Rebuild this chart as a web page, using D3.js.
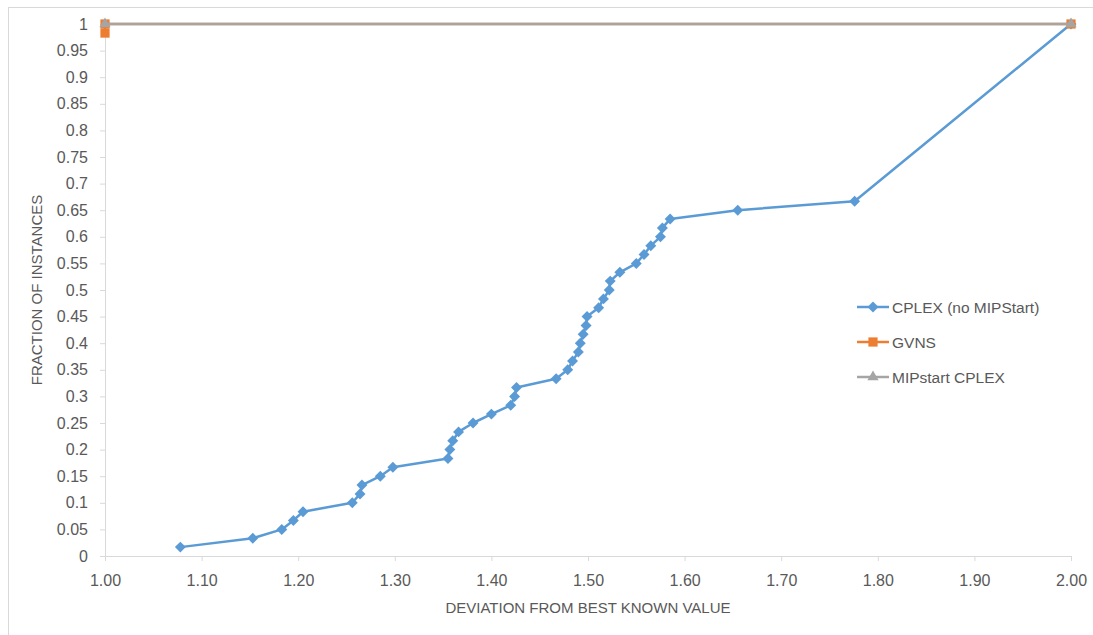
<!DOCTYPE html>
<html>
<head>
<meta charset="utf-8">
<script src="https://cdn.jsdelivr.net/npm/d3@7/dist/d3.min.js"></script>
<style>
  html, body { margin: 0; padding: 0; background: #fff; }
  svg { display: block; }
  text { font-family: "Liberation Sans", Arial, sans-serif; fill: #595959; }
</style>
</head>
<body>
<svg id="chart" width="1093" height="635"></svg>
<script>
// ---- Data ----
const cplexX = [1.078, 1.153, 1.183, 1.195, 1.205, 1.256, 1.264, 1.266, 1.285, 1.298,
                1.355, 1.357, 1.360, 1.366, 1.381, 1.400, 1.420, 1.424, 1.426, 1.467,
                1.479, 1.484, 1.490, 1.492, 1.495, 1.498, 1.499, 1.511, 1.516, 1.522,
                1.523, 1.533, 1.550, 1.558, 1.565, 1.575, 1.577, 1.585, 1.655, 1.776, 2.00];
const cplexY = [0.0167, 0.0333, 0.05, 0.0667, 0.0833, 0.1, 0.1167, 0.1333, 0.15, 0.1667,
                0.1833, 0.2, 0.2167, 0.2333, 0.25, 0.2667, 0.2833, 0.3, 0.3167, 0.3333,
                0.35, 0.3667, 0.3833, 0.4, 0.4167, 0.4333, 0.45, 0.4667, 0.4833, 0.5,
                0.5167, 0.5333, 0.55, 0.5667, 0.5833, 0.6, 0.6167, 0.6333, 0.65, 0.6667, 1.0];
const gvnsX = [1.00, 1.00, 2.00];
const gvnsY = [0.983, 1.0, 1.0];
const mipX = [1.00, 2.00];
const mipY = [1.0, 1.0];
const seriesNames = ["CPLEX (no MIPStart)", "GVNS", "MIPstart CPLEX"];
const seriesColors = ["#5B9BD5", "#ED7D31", "#A5A5A5"];
const xTicks = [1.0, 1.1, 1.2, 1.3, 1.4, 1.5, 1.6, 1.7, 1.8, 1.9, 2.0];
const yTicks = [0, 0.05, 0.1, 0.15, 0.2, 0.25, 0.3, 0.35, 0.4, 0.45, 0.5,
                0.55, 0.6, 0.65, 0.7, 0.75, 0.8, 0.85, 0.9, 0.95, 1];
const xTitle = "DEVIATION FROM BEST KNOWN VALUE";
const yTitle = "FRACTION OF INSTANCES";

// ---- Layout ----
const svg = d3.select("#chart");
const plot = { left: 105, right: 1071, top: 24, bottom: 556 };
const x = d3.scaleLinear().domain([1, 2]).range([plot.left, plot.right]);
const y = d3.scaleLinear().domain([0, 1]).range([plot.bottom, plot.top]);

// chart border
svg.append("rect").attr("x", 8.5).attr("y", 7.5).attr("width", 1100).attr("height", 640)
  .attr("fill", "none").attr("stroke", "#D9D9D9").attr("stroke-width", 1);

// axes
const xAxis = d3.axisBottom(x).tickValues(xTicks).tickFormat(d3.format(".2f")).tickSize(5).tickPadding(8);
const yAxis = d3.axisLeft(y).tickValues(yTicks).tickFormat(d => d3.format("")(+d.toFixed(2))).tickSize(5).tickPadding(12);

const gx = svg.append("g").attr("transform", `translate(0,${plot.bottom})`).call(xAxis);
const gy = svg.append("g").attr("transform", `translate(${plot.left},0)`).call(yAxis);
[gx, gy].forEach(g => {
  g.select(".domain").attr("stroke", "#D9D9D9").attr("stroke-width", 1);
  g.selectAll(".tick line").attr("stroke", "#D9D9D9");
  g.selectAll(".tick text").style("font-size", "16px").attr("fill", "#595959")
    .style("font-family", '"Liberation Sans", Arial, sans-serif');
});
gx.selectAll(".tick text").attr("dy", "1.05em");

// axis titles
svg.append("text").attr("x", (plot.left + plot.right) / 2).attr("y", 613)
  .attr("text-anchor", "middle").style("font-size", "15px").text(xTitle);
svg.append("text").attr("transform", `translate(42,${(plot.top + plot.bottom) / 2}) rotate(-90)`)
  .attr("text-anchor", "middle").style("font-size", "15px").text(yTitle);

// series
const series = [
  { name: seriesNames[0], color: seriesColors[0], pts: cplexX.map((v, i) => [v, cplexY[i]]), sym: d3.symbolSquare, size: 60, rot: 45 },
  { name: seriesNames[1], color: seriesColors[1], pts: gvnsX.map((v, i) => [v, gvnsY[i]]), sym: d3.symbolSquare, size: 85, rot: 0 },
  { name: seriesNames[2], color: seriesColors[2], pts: mipX.map((v, i) => [v, mipY[i]]), sym: d3.symbolTriangle, size: 55, rot: 0 }
];
const line = d3.line().x(d => x(d[0])).y(d => y(d[1]));

series.forEach(s => {
  const g = svg.append("g");
  g.append("path").attr("d", line(s.pts)).attr("fill", "none")
    .attr("stroke", s.color).attr("stroke-width", 2.5).attr("stroke-linejoin", "round");
  g.selectAll("path.m").data(s.pts).enter().append("path").attr("class", "m")
    .attr("d", d3.symbol().type(s.sym).size(s.size))
    .attr("transform", d => `translate(${x(d[0])},${y(d[1])}) rotate(${s.rot})`)
    .attr("fill", s.color);
});

// legend
const legend = svg.append("g");
series.forEach((s, i) => {
  const ly = 307 + i * 35;
  legend.append("line").attr("x1", 857).attr("x2", 889).attr("y1", ly).attr("y2", ly)
    .attr("stroke", s.color).attr("stroke-width", 2.5);
  legend.append("path").attr("d", d3.symbol().type(s.sym).size(s.size))
    .attr("transform", `translate(873,${ly}) rotate(${s.rot})`).attr("fill", s.color);
  legend.append("text").attr("x", 892).attr("y", ly).attr("dy", "0.36em")
    .style("font-size", "15.5px").text(s.name);
});
</script>
</body>
</html>
